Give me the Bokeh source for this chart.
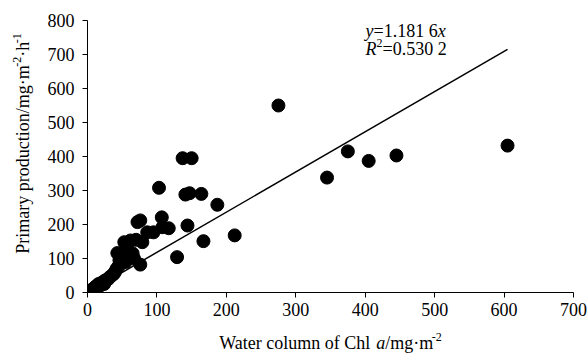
import math
from bokeh.plotting import figure
from bokeh.layouts import row, column
from bokeh.models import Range1d, FixedTicker, Label, ColumnDataSource
from bokeh.embed import file_html
from bokeh.resources import INLINE

chl = [3, 5, 6, 8, 9, 10, 12, 13, 15, 16, 18, 20, 22, 24, 25, 28, 30, 32, 35, 38,
       40, 42, 43, 45, 46, 48, 50, 52, 53, 55, 57, 58, 60, 62, 65, 67, 70, 72, 76, 76,
       79, 86, 95, 103, 107, 108, 117, 129, 141, 144, 147, 137, 150, 164, 167, 187,
       212, 275, 345, 375, 405, 445, 605]
pp = [2, 5, 8, 10, 7, 14, 18, 12, 22, 25, 20, 28, 30, 25, 35, 38, 40, 45, 50, 55,
      62, 70, 116, 78, 95, 85, 100, 110, 148, 90, 120, 125, 105, 153, 115, 100, 155, 207, 82, 212,
      148, 177, 177, 308, 221, 192, 189, 104, 288, 197, 292, 395, 395, 290, 151, 258,
      168, 550, 338, 415, 387, 403, 432]
slope = 1.1816
x_ticks = [0, 100, 200, 300, 400, 500, 600, 700]
y_ticks = [0, 100, 200, 300, 400, 500, 600, 700, 800]

FONT = "Liberation Serif"
FS = 18
SUP = 12
LEFT_W = 40      # width of the y-label strip
BOTTOM_H = 32    # height of the x-label strip
W, H = 588, 354

# ---------------- main plot ----------------
p = figure(width=W - LEFT_W, height=H - BOTTOM_H, x_range=Range1d(0, 700), y_range=Range1d(0, 800),
           output_backend="svg", toolbar_location=None,
           min_border_left=87 - LEFT_W, min_border_right=15, min_border_top=20,
           min_border_bottom=(H - BOTTOM_H) - 292)
p.outline_line_color = None
p.grid.visible = False

for ax in (p.xaxis[0], p.yaxis[0]):
    ax.axis_line_color = "black"
    ax.major_tick_line_color = "black"
    ax.minor_tick_line_color = None
    ax.major_tick_in = 0
    ax.major_tick_out = 5
    ax.major_label_text_font = FONT
    ax.major_label_text_font_size = f"{FS}px"
    ax.major_label_text_color = "black"

p.xaxis[0].ticker = FixedTicker(ticks=x_ticks)
p.yaxis[0].ticker = FixedTicker(ticks=y_ticks)
p.xaxis[0].major_label_standoff = 5
p.yaxis[0].major_label_standoff = 8

src = ColumnDataSource(dict(x=chl, y=pp))
p.scatter("x", "y", source=src, size=13, fill_color="black", line_color="black")

xmax = max(chl)
p.line([0, xmax], [0, slope * xmax], line_color="black", line_width=1.5)


def strip(w, h):
    f = figure(width=w, height=h, output_backend="svg", toolbar_location=None,
               x_axis_location=None, y_axis_location=None, min_border=0,
               x_range=Range1d(0, 1), y_range=Range1d(0, 1))
    f.outline_line_color = None
    f.grid.visible = False
    return f


yl = strip(LEFT_W, H)
xl = strip(W - LEFT_W, BOTTOM_H)

# --- rich text built from pieces (Times metrics, per 1000 em) ---
REG = {'W': 944, 'a': 444, 't': 278, 'e': 444, 'r': 333, ' ': 250, 'c': 444, 'o': 500,
       'l': 278, 'u': 500, 'm': 778, 'n': 500, 'f': 333, 'C': 667, 'h': 500, '/': 278,
       'g': 500, '·': 250, 'P': 556, 'i': 278, 'y': 500, 'p': 500, 'd': 500, '-': 333,
       '.': 250, '=': 564}
ITA = {'a': 500, 'y': 444, 'x': 444, 'R': 611}


def width(t, size, style):
    tab = ITA if style == "italic" else REG
    return sum(tab.get(ch, 500) for ch in t) * size / 1000.0


def run(fig, parts, x0, y0, vertical=False, center=True):
    # parts: (text, size, style, rise); x0, y0 in canvas px of fig (y downward)
    total = sum(width(t, s, st) for t, s, st, r in parts)
    pos = -total / 2 if center else 0.0
    for t, s, st, rise in parts:
        if vertical:
            x, y, ang = x0 - rise, y0 - pos, math.pi / 2
        else:
            x, y, ang = x0 + pos, y0 - rise, 0
        fig.add_layout(Label(x=x, y=y, x_units="canvas", y_units="canvas", text=t, angle=ang,
                             text_font=FONT, text_font_size=f"{s}px", text_font_style=st,
                             text_color="black", text_baseline="middle", text_align="left"))
        pos += width(t, s, st)


# x axis label (centred under the frame)
run(xl, [("Water column of Chl ", FS, "normal", 0), ("a", FS, "italic", 0),
         ("/mg·m", FS, "normal", 0), ("-2", SUP, "normal", 6)],
    330 - LEFT_W, 342 - (H - BOTTOM_H))
# y axis label
run(yl, [("Primary production/mg·m", FS, "normal", 0), ("-2", SUP, "normal", 6),
         ("·h", FS, "normal", 0), ("-1", SUP, "normal", 6)],
    22, 143, vertical=True)
# equation
run(p, [("y", FS, "italic", 0), ("=1.181 6", FS, "normal", 0), ("x", FS, "italic", 0)],
    365 - LEFT_W, 30, center=False)
run(p, [("R", FS, "italic", 0), ("2", SUP, "normal", 6), ("=0.530 2", FS, "normal", 0)],
    365 - LEFT_W, 48, center=False)

layout = row(yl, column(p, xl, spacing=0), spacing=0)
open("out.html", "w").write(file_html(layout, INLINE))
